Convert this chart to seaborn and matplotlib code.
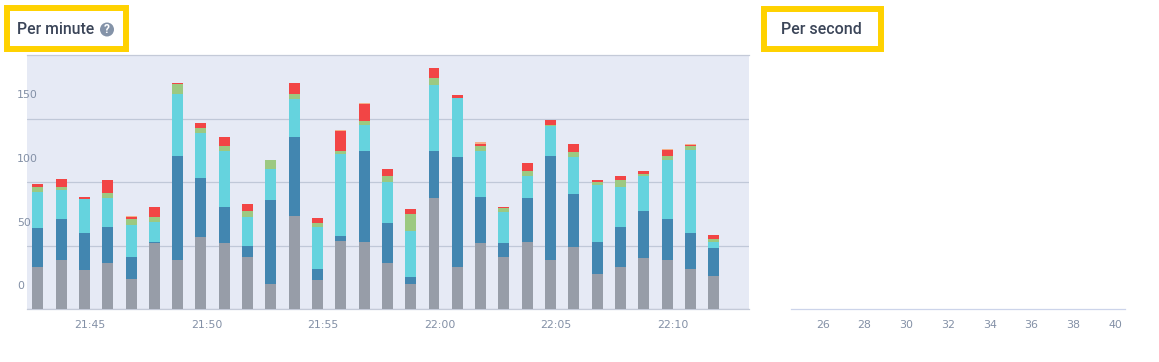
import numpy as np
import pandas as pd
import seaborn as sns
import matplotlib
matplotlib.use("Agg")
import matplotlib.pyplot as plt
from matplotlib.patches import Rectangle, Circle
from matplotlib.transforms import ScaledTranslation

# Per-minute series; index 0 is the bar of 21:43
minutes = list(range(-2, 28))  # minutes relative to 21:45
gray = [33.4,38.2,31,36.6,23.9,51.6,38.2,56.3,51.6,41.3,20,72.9,23.2,53.2,52.4,36.6,20,87.1,33.4,51.6,41.3,52.4,38.2,49.2,27.9,33.4,40.5,38.2,31.8,26.3]
blue = [30,32.3,28.5,27.6,17.4,0.8,82.1,46.6,28.4,8.7,65.5,62.4,8.6,3.9,71.8,30.8,5.5,37.1,86.1,36.3,10.3,34.7,82.1,41.1,24.5,30.8,36.3,32.3,27.7,22.1]
cyan = [28.4,22.9,26.8,22.9,24.5,15.8,48.9,35.5,44.7,22.1,24.5,30,32.4,64.7,20.5,32.3,36.1,52.1,46.3,36.3,24.4,17.4,23.6,29.2,45,31.6,27.7,46.6,65.5,4]
green = [4,2.4,0,3.9,4.7,3.9,7.9,4,3.5,4.7,7.1,3.9,3.2,2.4,3.2,4.8,12.9,5.5,0,4,3.2,3.9,0.8,3.9,2.3,5.5,1.5,3.2,3.2,3.1]
red = [2.4,6.3,1.6,10.3,1.6,7.9,0.8,3.9,7.1,5.6,0,8.7,3.9,15.8,13.4,5.5,3.9,7.9,2.6,1.5,0.8,6.3,4,6.3,1.6,3.2,2.4,4.7,0.7,2.4]
orange = [0,0,0,0,0.8,0,0,0,0,0,0,0,0,0.8,0.8,0,0,0,0,1.6,0,0,0,0,0,0,0,0.8,0.8,0]

series = [gray, blue, cyan, green, red, orange]
colors = ["#979da8", "#4286b0", "#65d3de", "#9cc981", "#f24545", "#f5b08a"]

y_ticks = [0, 50, 100, 150]
x_ticks = [0, 5, 10, 15, 20, 25]
x_labels = ["21:45", "21:50", "21:55", "22:00", "22:05", "22:10"]
sec_ticks = [26, 28, 30, 32, 34, 36, 38, 40]

W, H = 1159, 362
TICK = "#8390a6"
TITLE = "#3b4558"
YELLOW = "#ffd200"
BAR_OFFSET = 0.236  # bars end on their minute tick

sns.set_style("white")
plt.rcParams["font.family"] = ["DejaVu Sans"]
fig = plt.figure(figsize=(W / 100, H / 100), dpi=100, facecolor="white")


def box(x0, y0, x1, y1):
    return [x0 / W, 1 - y1 / H, (x1 - x0) / W, (y1 - y0) / H]


ax = fig.add_axes(box(27, 55, 749, 309))
ax.set_facecolor("#e6eaf5")
centres = np.array(minutes) - BAR_OFFSET
tops = np.cumsum(np.array(series, dtype=float), axis=0)
for top, col in reversed(list(zip(tops, colors))):
    df = pd.DataFrame({"minute": centres, "value": top})
    sns.barplot(data=df, x="minute", y="value", native_scale=True, color=col,
                saturation=1, width=0.47, errorbar=None, linewidth=0, ax=ax, zorder=3)
ax.set_xlim(-2.70, 28.28)
ax.set_ylim(0, 200)
ax.set_xlabel("")
ax.set_ylabel("")
ax.set_xticks(x_ticks, x_labels)
ax.set_yticks(y_ticks, [str(v) for v in y_ticks])
ax.set_axisbelow(True)
ax.grid(axis="y", color="#c0c8d8", linewidth=0.9)
ax.grid(axis="x", visible=False)
ax.tick_params(axis="x", length=0, pad=8, labelsize=7.9, labelcolor=TICK)
ax.tick_params(axis="y", length=0, pad=7.2, labelsize=7.9, labelcolor=TICK)
shift = ScaledTranslation(0, 24 / 100, fig.dpi_scale_trans)
for lab in ax.get_yticklabels():
    lab.set_horizontalalignment("left")
    lab.set_transform(lab.get_transform() + shift)
for s in ["left", "right"]:
    ax.spines[s].set_visible(False)
for s in ["top", "bottom"]:
    ax.spines[s].set_color("#c4cad8")
    ax.spines[s].set_linewidth(0.9)

ax2 = fig.add_axes(box(791, 55, 1125, 309))
ax2.set_xlim(24.48, 40.48)
ax2.set_ylim(0, 1)
ax2.set_xticks(sec_ticks, [str(v) for v in sec_ticks])
ax2.set_yticks([])
ax2.tick_params(axis="x", length=0, pad=8, labelsize=7.9, labelcolor=TICK)
for s in ["left", "right", "top"]:
    ax2.spines[s].set_visible(False)
ax2.spines["bottom"].set_color("#ccd4ea")
ax2.spines["bottom"].set_linewidth(0.9)

# Highlight boxes and titles
for x0, y0, x1, y1 in [(4, 5, 129, 52), (761, 6, 884, 52)]:
    fig.add_artist(Rectangle((x0 / W + 3 / W, 1 - (y1 - 3) / H), (x1 - x0 - 6) / W, (y1 - y0 - 6) / H,
                             transform=fig.transFigure, fill=False, edgecolor=YELLOW, linewidth=4.3))
fig.text(17 / W, 1 - 29.5 / H, "Per minute", family="Roboto", weight="medium", fontsize=11.3,
         color=TITLE, va="center", ha="left")
fig.text(781 / W, 1 - 29.5 / H, "Per second", family="Roboto", weight="medium", fontsize=11.5,
         color=TITLE, va="center", ha="left")
fig.add_artist(Circle((107, H - 29.5), 7, transform=None, facecolor="#8493a8", edgecolor="none"))
fig.text(107 / W, 1 - 29.7 / H, "?", family="Roboto", weight="bold", fontsize=8.5, color="white",
         va="center", ha="center")

fig.savefig("out.png", dpi=100)
